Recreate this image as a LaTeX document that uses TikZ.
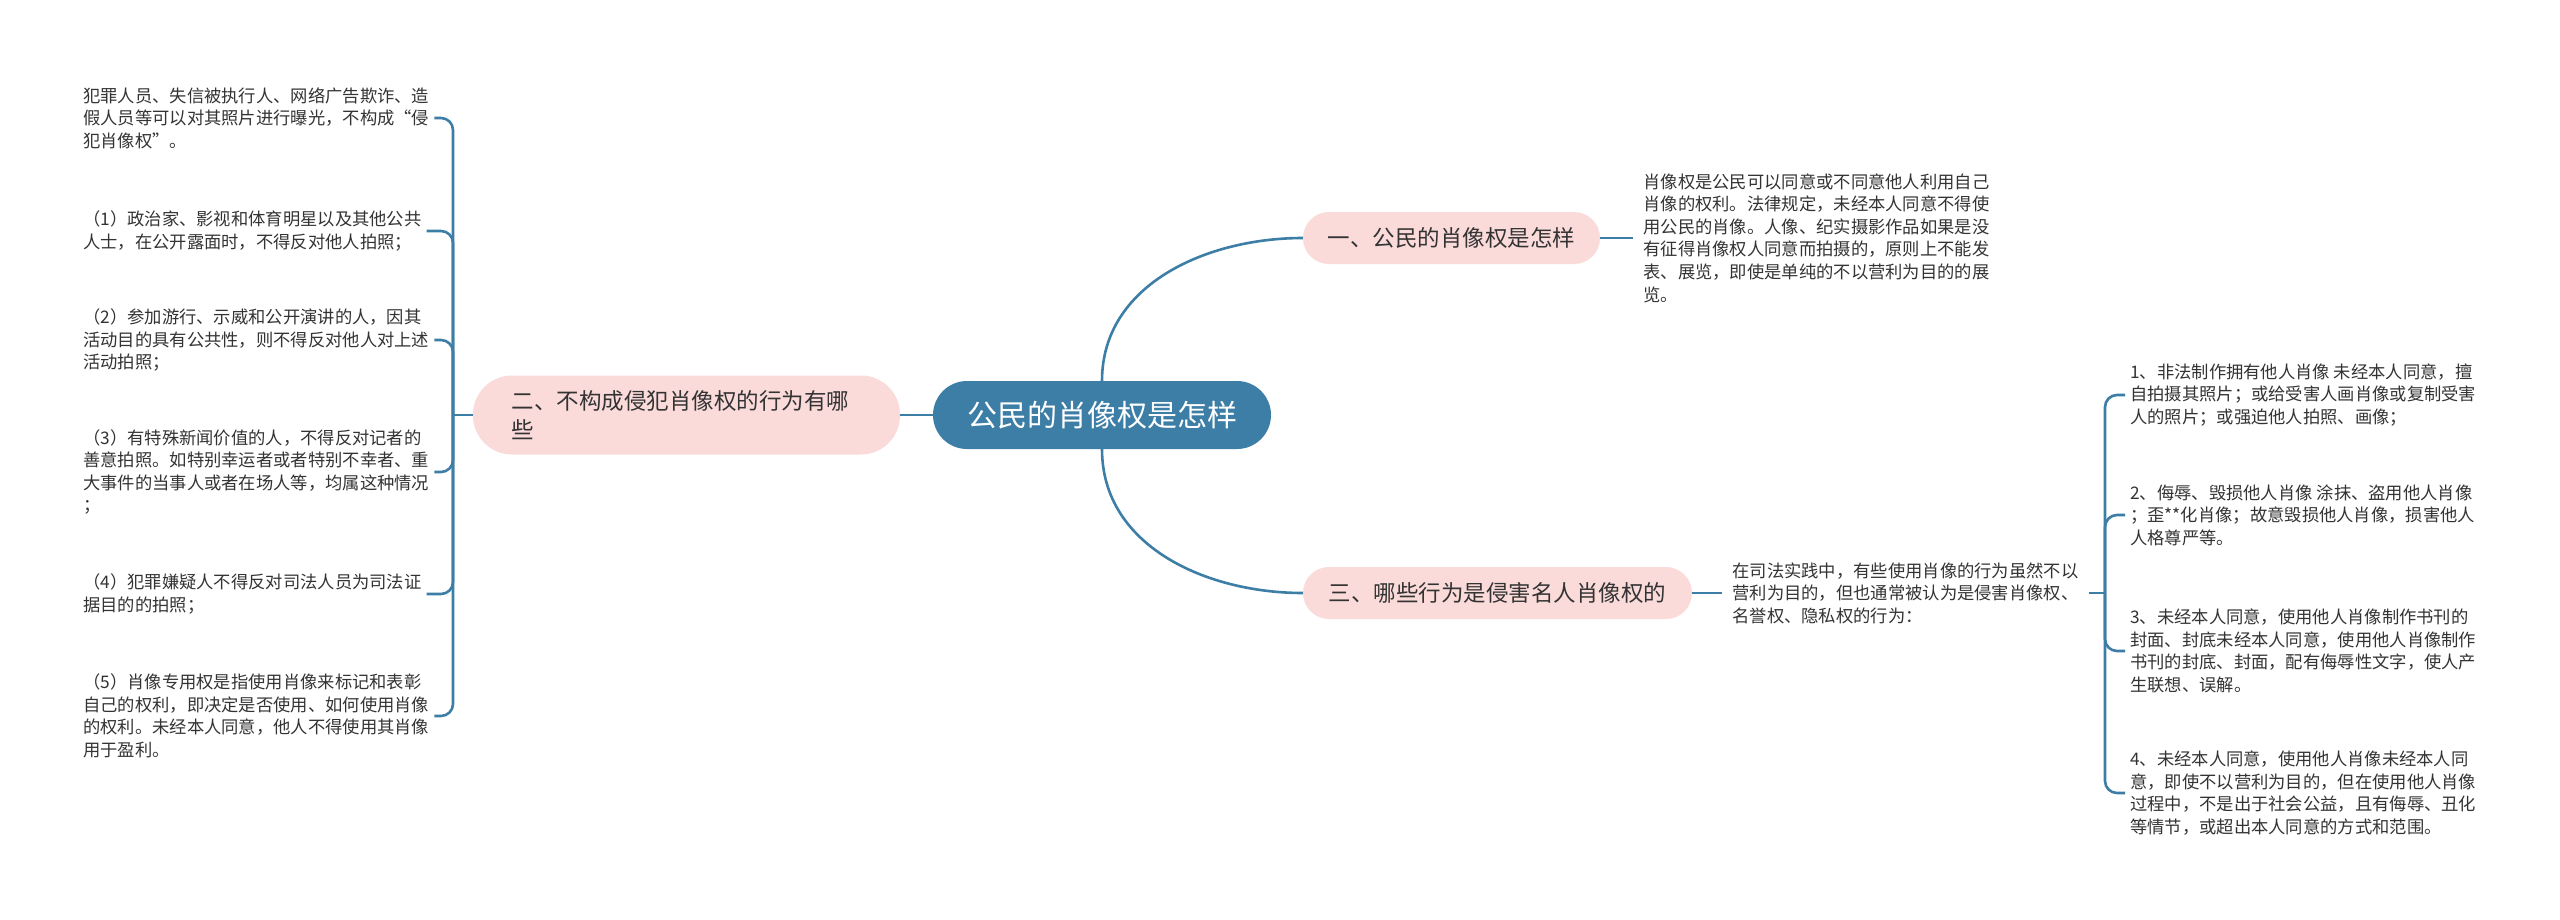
\documentclass[tikz,border=0pt]{standalone}
\usepackage{fontspec}
\setmainfont{Noto Sans CJK SC}
\usetikzlibrary{positioning}
\definecolor{rootblue}{RGB}{61,126,166}
\definecolor{topicpink}{RGB}{250,219,218}
\definecolor{leafgray}{RGB}{51,51,51}
\tikzset{
  every picture/.style={x=1pt,y=-1pt},
  conn/.style={draw=rootblue, line width=2.6pt},
  hook/.style={conn, rounded corners=12pt},
  rootnode/.style={fill=rootblue, text=white, rounded corners=34pt,
                   minimum width=338pt, minimum height=68pt,
                   font=\fontsize{30pt}{36pt}\selectfont},
  topic/.style={fill=topicpink, text=leafgray, rounded corners=26pt,
                minimum height=52pt, font=\fontsize{22.5pt}{29pt}\selectfont},
  leaf/.style={text=leafgray, align=left, inner xsep=5pt, inner ysep=0pt,
               font=\fontsize{17.3pt}{22.6pt}\selectfont},
}

\begin{document}
\begin{tikzpicture}
\fill[white] (0,0) rectangle (2560,919);
\useasboundingbox (0,0) rectangle (2560,919);

% centre and main topics
\node[rootnode] (root) at (1102,415) {公民的肖像权是怎样};
\node[topic, minimum width=297pt] (t1) at (1451.5,238) {一、公民的肖像权是怎样};
\node[topic, minimum width=427pt, minimum height=79pt, rounded corners=39pt,
      text width=350pt, align=left, font=\fontsize{22.5pt}{29pt}\selectfont]
      (t2) at (686.5,415) {二、不构成侵犯肖像权的行为有哪\\些};
\node[topic, minimum width=389pt] (t3) at (1497.5,593) {三、哪些行为是侵害名人肖像权的};

% right side text blocks
\node[leaf, inner xsep=10pt, right=33pt of t1] (b1)
  {肖像权是公民可以同意或不同意他人利用自己\\
   肖像的权利。法律规定，未经本人同意不得使\\
   用公民的肖像。人像、纪实摄影作品如果是没\\
   有征得肖像权人同意而拍摄的，原则上不能发\\
   表、展览，即使是单纯的不以营利为目的的展\\
   览。};
\node[leaf, inner xsep=10pt, right=30pt of t3] (b3)
  {在司法实践中，有些使用肖像的行为虽然不以\\
   营利为目的，但也通常被认为是侵害肖像权、\\
   名誉权、隐私权的行为：};

\node[leaf, anchor=west] (r1) at (2125,395)
  {1、非法制作拥有他人肖像 未经本人同意，擅\\
   自拍摄其照片；或给受害人画肖像或复制受害\\
   人的照片；或强迫他人拍照、画像；};
\node[leaf, anchor=west] (r2) at (2125,515)
  {2、侮辱、毁损他人肖像 涂抹、盗用他人肖像\\
   ；歪**化肖像；故意毁损他人肖像，损害他人\\
   人格尊严等。};
\node[leaf, anchor=west] (r3) at (2125,651)
  {3、未经本人同意，使用他人肖像制作书刊的\\
   封面、封底未经本人同意，使用他人肖像制作\\
   书刊的封底、封面，配有侮辱性文字，使人产\\
   生联想、误解。};
\node[leaf, anchor=west] (r4) at (2125,793)
  {4、未经本人同意，使用他人肖像未经本人同\\
   意，即使不以营利为目的，但在使用他人肖像\\
   过程中，不是出于社会公益，且有侮辱、丑化\\
   等情节，或超出本人同意的方式和范围。};

% left side items
\node[leaf, anchor=west] (l0) at (78,118)
  {犯罪人员、失信被执行人、网络广告欺诈、造\\
   假人员等可以对其照片进行曝光，不构成“侵\\
   犯肖像权”。};
\node[leaf, anchor=west] (l1) at (78,231)
  {（1）政治家、影视和体育明星以及其他公共\\
   人士，在公开露面时，不得反对他人拍照；};
\node[leaf, anchor=west] (l2) at (78,340)
  {（2）参加游行、示威和公开演讲的人，因其\\
   活动目的具有公共性，则不得反对他人对上述\\
   活动拍照；};
\node[leaf, anchor=west] (l3) at (78,472)
  {（3）有特殊新闻价值的人，不得反对记者的\\
   善意拍照。如特别幸运者或者特别不幸者、重\\
   大事件的当事人或者在场人等，均属这种情况\\
   ；};
\node[leaf, anchor=west] (l4) at (78,594)
  {（4）犯罪嫌疑人不得反对司法人员为司法证\\
   据目的的拍照；};
\node[leaf, anchor=west] (l5) at (78,716)
  {（5）肖像专用权是指使用肖像来标记和表彰\\
   自己的权利，即决定是否使用、如何使用肖像\\
   的权利。未经本人同意，他人不得使用其肖像\\
   用于盈利。};

\coordinate (lj) at (453,415);
\coordinate (rj) at (2105,593);

% connectors
\draw[conn] (root.west) -- (t2.east);
\draw[conn] (root.north) to[out=90,in=180] (t1.west);
\draw[conn] (root.south) to[out=270,in=180] (t3.west);
\draw[conn] (t1.east) -- (b1.west);
\draw[conn] (t3.east) -- (b3.west);
\draw[conn] (b3.east) -- (rj);
\foreach \r in {r1,r2,r3,r4}
  \draw[hook] (rj) |- (\r.west);
\draw[conn] (t2.west) -- (lj);
\foreach \l in {l0,l1,l2,l3,l4,l5}
  \draw[hook] (lj) |- (\l.east);
\end{tikzpicture}
\end{document}
